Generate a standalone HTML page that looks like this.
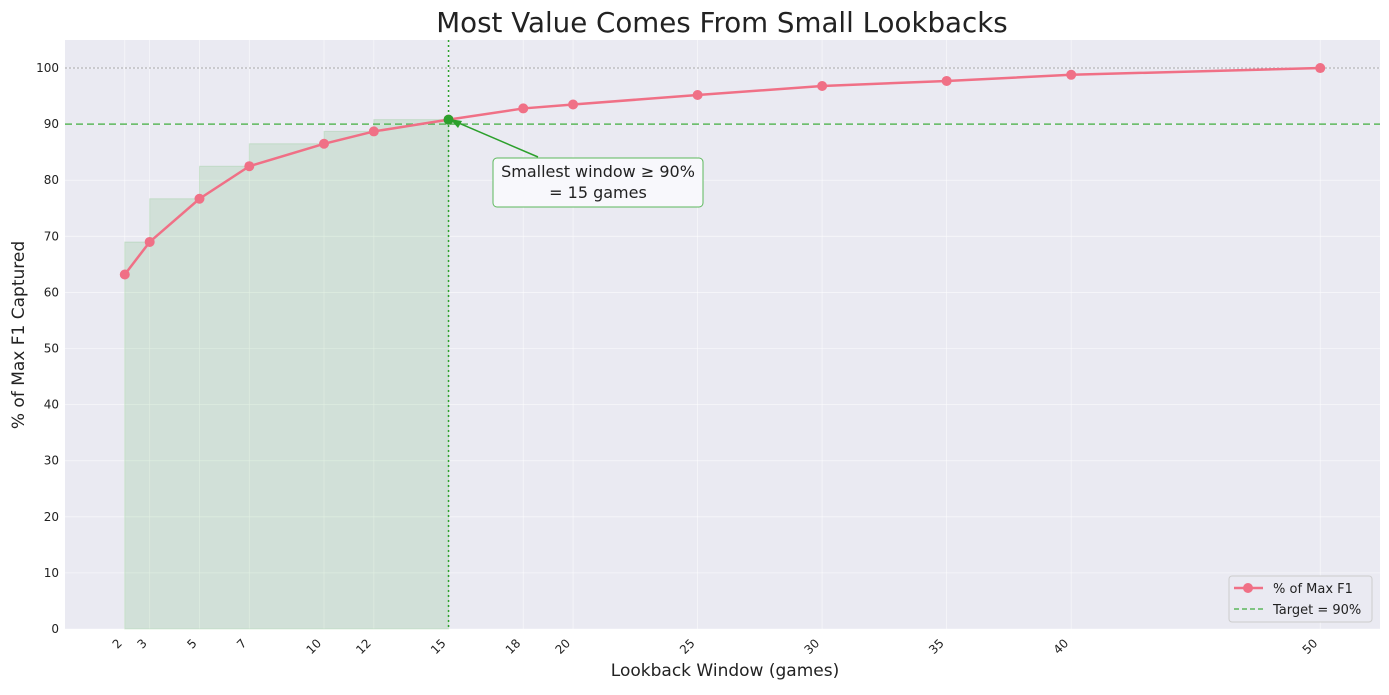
<!DOCTYPE html>
<html><head><meta charset="utf-8"><style>
body{margin:0;background:#fff;font-family:"Liberation Sans","DejaVu Sans",sans-serif;}
svg text{font-family:"DejaVu Sans","Liberation Sans",sans-serif;}
</style></head><body>
<svg id="chart" width="1389" height="690" xmlns="http://www.w3.org/2000/svg">
<text x="722" y="32" font-size="27.7" text-anchor="middle" fill="#222">Most Value Comes From Small Lookbacks</text>
<rect x="65" y="40" width="1315" height="589" fill="#eaeaf2"/>
<g id="grid"></g><g id="fill"></g><g id="lines"></g><g id="ticks"></g>
<text x="725" y="676" font-size="17" text-anchor="middle" fill="#222">Lookback Window (games)</text>
<text transform="translate(24,335) rotate(-90)" font-size="17" text-anchor="middle" fill="#222">% of Max F1 Captured</text>
<g>
<line x1="538" y1="157" x2="454" y2="121" stroke="#2ca02c" stroke-width="1.5"/>
<polygon points="450,119 462,121 458,128" fill="#2ca02c"/>
<rect x="493" y="158" width="210" height="49" rx="4" fill="#f8f8fc" stroke="#5cb85c"/>
<text x="598" y="177" font-size="16" text-anchor="middle" fill="#222">Smallest window ≥ 90%</text>
<text x="598" y="198" font-size="16" text-anchor="middle" fill="#222">= 15 games</text>
</g>
<g>
<rect x="1229" y="576" width="143" height="46" rx="3" fill="#eaeaf2" stroke="#ccc"/>
<line x1="1234" y1="588" x2="1263" y2="588" stroke="#f07086" stroke-width="2.5"/>
<circle cx="1248" cy="588" r="5" fill="#f07086"/>
<text x="1273" y="593" font-size="13" fill="#222">% of Max F1</text>
<line x1="1234" y1="609" x2="1263" y2="609" stroke="#5cb85c" stroke-width="1.5" stroke-dasharray="5,3"/>
<text x="1273" y="614" font-size="13" fill="#222">Target = 90%</text>
</g>
</svg>
<script>
const windows=[2,3,5,7,10,12,15,18,20,25,30,35,40,50];
const pctMax=[63.2,69.0,76.7,82.5,86.5,88.7,90.8,92.8,93.5,95.2,96.8,97.7,98.8,100];
const yTicks=[0,10,20,30,40,50,60,70,80,90,100];
const target=90, chosen=15;
const NS="http://www.w3.org/2000/svg";
const X0=65,X1=1380,Y0=629,Y1=40,xmin=-0.4,xmax=52.4,ymin=0,ymax=105;
const xs=v=>X0+(v-xmin)/(xmax-xmin)*(X1-X0);
const ys=v=>Y0-(v-ymin)/(ymax-ymin)*(Y0-Y1);
function mk(p,t,a){const e=document.createElementNS(NS,t);for(const k in a)e.setAttribute(k,a[k]);document.getElementById(p).appendChild(e);return e;}
yTicks.forEach(t=>{
 const g=mk('grid','line',{x1:X0,x2:X1,y1:ys(t),y2:ys(t),stroke:'#fff','stroke-width':0.8,'stroke-opacity':0.6});
 
 const l=mk('ticks','text',{x:X0-6,y:ys(t)+4,'font-size':12,'text-anchor':'end',fill:'#222'});l.textContent=t;
 
});
windows.forEach(w=>{
 const g=mk('grid','line',{x1:xs(w),x2:xs(w),y1:Y1,y2:Y0,stroke:'#fff','stroke-width':0.8,'stroke-opacity':0.6});
 
 const x=xs(w)-2,y=636;
 const l=mk('ticks','text',{x:x,y:y+8,'font-size':12,'text-anchor':'end',fill:'#222',transform:`rotate(-45 ${x} ${y+8})`});l.textContent=w;
 
});
// step fill (steps-pre)
let d=`M${xs(windows[0])},${ys(0)}L${xs(windows[0])},${ys(pctMax[0])}`;
for(let i=1;i<windows.length&&windows[i]<=chosen;i++){
 d+=`L${xs(windows[i-1])},${ys(pctMax[i])}L${xs(windows[i])},${ys(pctMax[i])}`;
}
d+=`L${xs(chosen)},${ys(0)}Z`;
const f=mk('fill','path',{d:d,fill:'#2ca02c','fill-opacity':0.13,stroke:'#2ca02c','stroke-opacity':0.15});

const r100=mk('lines','line',{x1:X0,x2:X1,y1:ys(100),y2:ys(100),stroke:'#aaa','stroke-dasharray':'2,2'});

const tl=mk('lines','line',{x1:X0,x2:X1,y1:ys(target),y2:ys(target),stroke:'#5cb85c','stroke-width':1.5,'stroke-dasharray':'7,4'});

const vl=mk('lines','line',{x1:xs(chosen),x2:xs(chosen),y1:Y1,y2:Y0,stroke:'#2ca02c','stroke-width':1.5,'stroke-dasharray':'2,3'});

const pl=mk('lines','polyline',{points:windows.map((w,i)=>xs(w)+','+ys(pctMax[i])).join(' '),fill:'none',stroke:'#f07086','stroke-width':2.5});

windows.forEach((w,i)=>{
 const c=mk('lines','circle',{cx:xs(w),cy:ys(pctMax[i]),r:5,fill:'#f07086'});
 
});
const ci=windows.indexOf(chosen);
const cm=mk('lines','circle',{cx:xs(chosen),cy:ys(pctMax[ci]),r:5,fill:'#2ca02c'});

</script>
</body></html>
